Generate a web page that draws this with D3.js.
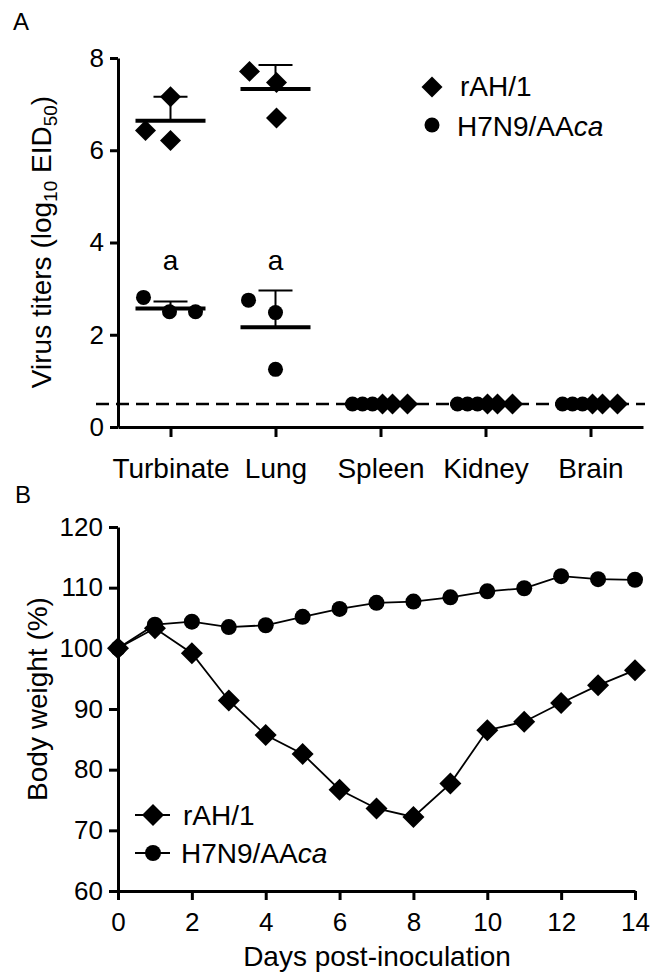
<!DOCTYPE html>
<html>
<head>
<meta charset="utf-8">
<script src="https://cdn.jsdelivr.net/npm/d3@7"></script>
<style>
  body { margin: 0; background: #fff; }
  svg text { font-family: Arial, "Liberation Sans", sans-serif; fill: #000; }
</style>
</head>
<body>
<script>
// ---- panel A data (log10 EID50) ----
var organs = ["Turbinate", "Lung", "Spleen", "Kidney", "Brain"];
var rah1Titers = [[6.43, 6.21, 7.16], [7.71, 7.47, 6.70], [0.5, 0.5, 0.5], [0.5, 0.5, 0.5], [0.5, 0.5, 0.5]];
var rah1Mean = [6.64, 7.33, 0.5, 0.5, 0.5];
var rah1Sd = [0.52, 0.52, 0, 0, 0];
var h7n9Titers = [[2.81, 2.50, 2.50], [2.75, 2.48, 1.25], [0.5, 0.5, 0.5], [0.5, 0.5, 0.5], [0.5, 0.5, 0.5]];
var h7n9Mean = [2.57, 2.16, 0.5, 0.5, 0.5];
var h7n9Sd = [0.15, 0.80, 0, 0, 0];
var detectionLimit = 0.5;
var titerTicks = [0, 2, 4, 6, 8];

// ---- panel B data (body weight %) ----
var days = [0, 1, 2, 3, 4, 5, 6, 7, 8, 9, 10, 11, 12, 13, 14];
var rah1Weight = [100, 103.3, 99.2, 91.4, 85.7, 82.6, 76.7, 73.6, 72.2, 77.7, 86.5, 87.9, 91.0, 93.9, 96.4];
var h7n9Weight = [100, 103.9, 104.4, 103.5, 103.8, 105.2, 106.5, 107.5, 107.7, 108.4, 109.4, 109.9, 111.9, 111.4, 111.3];
var weightTicks = [60, 70, 80, 90, 100, 110, 120];
var dayTicks = [0, 2, 4, 6, 8, 10, 12, 14];

var W = 651, H = 974;
var svg = d3.select("body").append("svg").attr("width", W).attr("height", H);

// symbols
var diamondA = d3.symbol().type(d3.symbolSquare).size(220);
var circleA = d3.symbol().type(d3.symbolCircle).size(177);
var diamondB = d3.symbol().type(d3.symbolSquare).size(242);
var circleB = d3.symbol().type(d3.symbolCircle).size(201);

function styleAxis(g, fs){
  g.select(".domain").attr("stroke", "#000").attr("stroke-width", 3);
  g.selectAll(".tick line").attr("stroke", "#000").attr("stroke-width", 3);
  g.selectAll(".tick text").attr("font-size", fs).attr("font-family", "Arial, 'Liberation Sans', sans-serif").attr("fill", "#000");
  g.attr("font-family", null).attr("font-size", null);
}

// ================= PANEL A =================
var xA = d3.scalePoint().domain(organs).range([118, 643]).padding(0.5);
var yA = d3.scaleLinear().domain([0, 8]).range([427, 58]);

svg.append("text").attr("x", 13).attr("y", 30).attr("font-size", 24).text("A");

// dashed detection limit
svg.append("line")
  .attr("x1", 96).attr("x2", 645)
  .attr("y1", yA(detectionLimit)).attr("y2", yA(detectionLimit))
  .attr("stroke", "#000").attr("stroke-width", 2.5)
  .attr("stroke-dasharray", "13,7");

var gyA = svg.append("g").attr("transform", "translate(118,0)")
  .call(d3.axisLeft(yA).tickValues(titerTicks).tickSize(8).tickSizeOuter(0).tickPadding(6).tickFormat(d3.format("d")));
styleAxis(gyA, 26);

var gxA = svg.append("g").attr("transform", "translate(0,427)")
  .call(d3.axisBottom(xA).tickSize(10).tickSizeOuter(0).tickPadding(21));
styleAxis(gxA, 28);

// y label A
var ylA = svg.append("text")
  .attr("transform", "translate(51," + 242 + ") rotate(-90)")
  .attr("text-anchor", "middle").attr("font-size", 28);
ylA.append("tspan").text("Virus titers (log");
ylA.append("tspan").attr("font-size", 19).attr("dy", 6).text("10");
ylA.append("tspan").attr("dy", -6).text(" EID");
ylA.append("tspan").attr("font-size", 19).attr("dy", 6).text("50");
ylA.append("tspan").attr("dy", -6).text(")");

// jitter offsets (px) for overlapping scatter points
var jitterDiamond = [[-25, 0, 0], [-26, 1, 1], [2, 12, 27], [2, 12, 27], [2, 12, 27]];
var jitterCircle = [[-27, -1, 25], [-27, 0, 0], [-28, -18, -8], [-28, -18, -8], [-28, -18, -8]];

function scatterData(titers, jit){
  var out = [];
  titers.forEach(function(vals, i){
    vals.forEach(function(v, j){
      out.push({organ: organs[i], value: v, dx: jit[i][j]});
    });
  });
  return out;
}

svg.append("g").selectAll("path").data(scatterData(h7n9Titers, jitterCircle)).enter().append("path")
  .attr("d", circleA)
  .attr("transform", function(d){ return "translate(" + (xA(d.organ) + d.dx) + "," + yA(d.value) + ")"; })
  .attr("fill", "#000");

svg.append("g").selectAll("path").data(scatterData(rah1Titers, jitterDiamond)).enter().append("path")
  .attr("d", diamondA)
  .attr("transform", function(d){ return "translate(" + (xA(d.organ) + d.dx) + "," + yA(d.value) + ") rotate(45)"; })
  .attr("fill", "#000");

// mean and SD bars
function meanBars(means, sds){
  var g = svg.append("g");
  organs.forEach(function(o, i){
    var cx = xA(o);
    g.append("line").attr("x1", cx - 35).attr("x2", cx + 35)
      .attr("y1", yA(means[i])).attr("y2", yA(means[i]))
      .attr("stroke", "#000").attr("stroke-width", 4);
    if (sds[i] > 0) {
      g.append("line").attr("x1", cx).attr("x2", cx)
        .attr("y1", yA(means[i])).attr("y2", yA(means[i] + sds[i]))
        .attr("stroke", "#000").attr("stroke-width", 2);
      g.append("line").attr("x1", cx - 17).attr("x2", cx + 17)
        .attr("y1", yA(means[i] + sds[i])).attr("y2", yA(means[i] + sds[i]))
        .attr("stroke", "#000").attr("stroke-width", 2);
    }
  });
}
meanBars(rah1Mean, rah1Sd);
meanBars(h7n9Mean, h7n9Sd);

// significance letters
["Turbinate", "Lung"].forEach(function(o){
  svg.append("text").attr("x", xA(o)).attr("y", yA(3.4))
    .attr("text-anchor", "middle").attr("font-size", 28).text("a");
});

// legend A
svg.append("path").attr("d", diamondA).attr("transform", "translate(432,87) rotate(45)").attr("fill", "#000");
svg.append("text").attr("x", 460).attr("y", 96).attr("font-size", 28).text("rAH/1");
svg.append("path").attr("d", circleA).attr("transform", "translate(432,125)").attr("fill", "#000");
var lgA = svg.append("text").attr("x", 457).attr("y", 136).attr("font-size", 28);
lgA.append("tspan").text("H7N9/AA");
lgA.append("tspan").attr("font-style", "italic").text("ca");

// ================= PANEL B =================
var xB = d3.scaleLinear().domain([0, 14]).range([118, 635]);
var yB = d3.scaleLinear().domain([60, 120]).range([891, 527]);

svg.append("text").attr("x", 15).attr("y", 503).attr("font-size", 24).text("B");

var gyB = svg.append("g").attr("transform", "translate(118,0)")
  .call(d3.axisLeft(yB).tickValues(weightTicks).tickSize(9).tickSizeOuter(0).tickPadding(6));
styleAxis(gyB, 26);

var gxB = svg.append("g").attr("transform", "translate(0,891)")
  .call(d3.axisBottom(xB).tickValues(dayTicks).tickSize(9).tickSizeOuter(0).tickPadding(13));
styleAxis(gxB, 26);

svg.append("text").attr("x", 377).attr("y", 966).attr("text-anchor", "middle")
  .attr("font-size", 28).text("Days post-inoculation");

svg.append("text").attr("transform", "translate(47,699) rotate(-90)")
  .attr("text-anchor", "middle").attr("font-size", 28).text("Body weight (%)");

var lineB = d3.line()
  .x(function(d, i){ return xB(days[i]); })
  .y(function(d){ return yB(d); });

svg.append("path").datum(h7n9Weight).attr("d", lineB)
  .attr("fill", "none").attr("stroke", "#000").attr("stroke-width", 1.8);
svg.append("path").datum(rah1Weight).attr("d", lineB)
  .attr("fill", "none").attr("stroke", "#000").attr("stroke-width", 1.8);

svg.append("g").selectAll("path").data(h7n9Weight).enter().append("path")
  .attr("d", circleB)
  .attr("transform", function(d, i){ return "translate(" + xB(days[i]) + "," + yB(d) + ")"; })
  .attr("fill", "#000");
svg.append("g").selectAll("path").data(rah1Weight).enter().append("path")
  .attr("d", diamondB)
  .attr("transform", function(d, i){ return "translate(" + xB(days[i]) + "," + yB(d) + ") rotate(45)"; })
  .attr("fill", "#000");

// legend B
svg.append("line").attr("x1", 135).attr("x2", 170).attr("y1", 815).attr("y2", 815).attr("stroke", "#000").attr("stroke-width", 1.8);
svg.append("path").attr("d", diamondB).attr("transform", "translate(153,815) rotate(45)").attr("fill", "#000");
svg.append("text").attr("x", 183).attr("y", 825).attr("font-size", 28).text("rAH/1");
svg.append("line").attr("x1", 135).attr("x2", 170).attr("y1", 853).attr("y2", 853).attr("stroke", "#000").attr("stroke-width", 1.8);
svg.append("path").attr("d", circleB).attr("transform", "translate(153,853)").attr("fill", "#000");
var lgB = svg.append("text").attr("x", 181).attr("y", 863).attr("font-size", 28);
lgB.append("tspan").text("H7N9/AA");
lgB.append("tspan").attr("font-style", "italic").text("ca");
</script>
</body>
</html>
